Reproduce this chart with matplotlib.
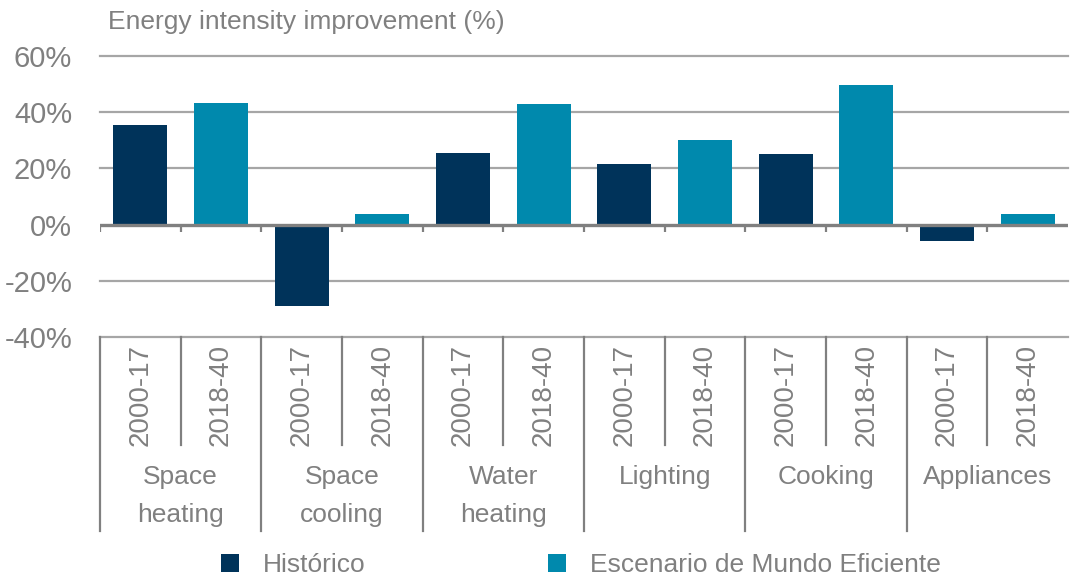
import matplotlib
matplotlib.use('Agg')
import matplotlib.pyplot as plt
import matplotlib.transforms as mtransforms

plt.rcParams['font.family'] = ['Liberation Sans Narrow', 'Liberation Sans', 'DejaVu Sans']

# data
categories = ['Space\nheating', 'Space\ncooling', 'Water\nheating', 'Lighting', 'Cooking', 'Appliances']
periods = ['2000-17', '2018-40']
historico = [35.4, -28.9, 25.4, 21.4, 25.0, -5.7]
eficiente = [43.2, 3.9, 42.8, 30.0, 49.6, 3.9]
yticks = [-40, -20, 0, 20, 40, 60]
series_names = ['Histórico', 'Escenario de Mundo Eficiente']

dark = '#00335A'
teal = '#0089AD'
grey_txt = '#808080'
grid_c = '#A6A6A6'

fig = plt.figure(figsize=(10.7, 5.77), dpi=100)
ax = fig.add_axes([100 / 1070, 1 - 337 / 577, 968 / 1070, 281 / 577])

n = len(categories)
xs_h = [2 * i for i in range(n)]
xs_e = [2 * i + 1 for i in range(n)]
b1 = ax.bar(xs_h, historico, width=0.67, color=dark, zorder=3)
b2 = ax.bar(xs_e, eficiente, width=0.67, color=teal, zorder=3)

ax.set_xlim(-0.5, 2 * n - 0.5)
ax.set_ylim(-40, 60)
ax.set_yticks(yticks)
ax.set_yticklabels([f'{v}%' for v in yticks], fontsize=21, color=grey_txt)
ax.tick_params(axis='y', length=0, pad=20)
ax.set_xticks([])
for s in ax.spines.values():
    s.set_visible(False)

for v in yticks:
    if v != 0:
        ax.axhline(v, color=grid_c, lw=1.6, zorder=1, clip_on=False)
ax.axhline(0, color=grey_txt, lw=2.4, zorder=4)

# small ticks under the zero line
bounds = [i - 0.5 for i in range(2 * n)]
ax.vlines(bounds, -2.8, 0, color=grey_txt, lw=1.6, zorder=4)

# group labels below axis
trans = mtransforms.blended_transform_factory(ax.transData, ax.transAxes)
for i in range(2 * n):
    x0 = i - 0.5
    y_end = -0.69 if i % 2 == 0 else -0.385
    ax.plot([x0, x0], [0, y_end], color=grey_txt, lw=1.6, transform=trans, clip_on=False)
    ax.text(i, -0.205, periods[i % 2], rotation=90, ha='center', va='center',
            fontsize=20, color=grey_txt, transform=trans)
for k, cat in enumerate(categories):
    ax.text(2 * k + 0.5, -0.455, cat, ha='center', va='top', fontsize=19,
            color=grey_txt, linespacing=1.75, transform=trans)

fig.text(108 / 1070, 1 - 22 / 577, 'Energy intensity improvement (%)', fontsize=19,
         color=grey_txt, va='center', ha='left')

# legend
for handle, name, xpos in [(b1, series_names[0], 221), (b2, series_names[1], 548)]:
    leg = fig.legend([handle], [name], loc='center left',
                     bbox_to_anchor=(xpos / 1070, 1 - 565 / 577), frameon=False,
                     fontsize=19, handlelength=0.7, handleheight=0.7, handletextpad=0.9,
                     borderaxespad=0, borderpad=0)
    for t in leg.get_texts():
        t.set_color(grey_txt)

fig.savefig('out.png', dpi=100)
